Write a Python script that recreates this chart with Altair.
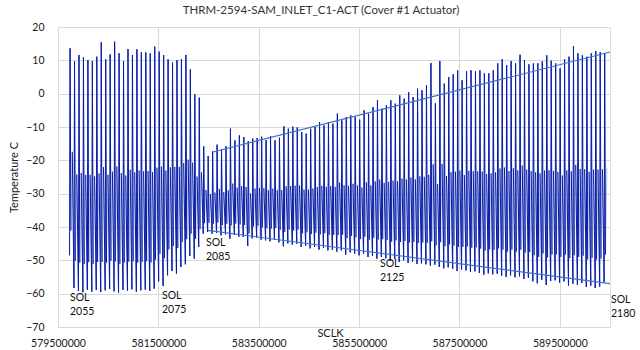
import altair as alt
import pandas as pd

title_text = "THRM-2594-SAM_INLET_C1-ACT (Cover #1 Actuator)"

# Sol timing (spacecraft clock seconds)
first_sol = 2055
first_sol_sclk = 579730000
sol_seconds = 88775

# Daily maximum temperature per sol (2055 .. 2175)
daily_high = [
    13.6, 9.8, 11.6, 10.9, 10.1, 9.8, 11.1, 15.4, 10.3, 11.8,
    15.6, 12.1, 9.8, 13.4, 11.6, 13.3, 12.4, 12.4, 12.1, 14.1,
    12.6, 11.6, 10.3, 9.3, 10.1, 10.4, 11.6, 7.3, -0.2, -1.2,
    -15.8, -18.7, -17.3, -15.3, -16.6, -15.8, -10.5, -14.0, -12.5, -13.0,
    -14.2, -13.5, -13.3, -12.9, -13.9, -12.7, -14.0, -13.2, -9.8, -10.5,
    -9.9, -10.1, -11.5, -12.0, -10.5, -10.0, -8.5, -9.5, -8.5, -9.0,
    -6.0, -8.0, -7.0, -6.5, -7.0, -7.8, -5.0, -6.0, -4.0, -2.0,
    -4.5, -3.5, -2.0, -3.0, -0.5, -1.5, 0.5, -1.0, 1.5, 1.0,
    2.5, 9.2, -2.9, 9.8, 3.0, 5.0, 5.8, 7.0, 4.0, 6.7,
    7.0, 6.7, 7.0, 6.1, 6.1, 7.0, 9.1, 10.3, 8.6, 9.8,
    9.1, 11.7, 10.1, 8.8, 9.1, 9.1, 9.7, 11.5, 9.9, 9.1,
    7.6, 10.3, 11.1, 14.3, 12.1, 11.5, 11.1, 12.1, 12.8, 12.5,
    12.1,
]

# Daily minimum temperature per sol (2055 .. 2175)
daily_low = [
    -48.5,
    -58.3, -59.2, -59.6, -58.8, -59.4, -58.9, -59.5, -59.0, -58.6, -59.3,
    -59.7, -58.9, -59.1, -58.7, -59.4, -59.0, -58.8, -59.2, -58.5,
    -56.3, -57.7, -54.5, -53.2, -54.0, -52.0, -51.2, -48.7, -49.5, -46.0,
    -42.0, -41.5,
    -42.0, -41.8, -42.5, -42.2, -43.5, -42.4, -42.9, -43.0, -45.7, -43.4,
    -43.2, -43.8, -44.0, -44.3, -43.9, -44.6, -45.8, -44.9, -45.3, -45.0,
    -46.0, -45.6, -46.4, -46.0, -46.8, -46.3, -47.0, -46.9, -47.4, -47.0,
    -48.3, -47.6, -48.0, -48.5, -48.1, -49.0, -48.6, -49.5, -49.0, -49.4,
    -50.2, -49.6, -50.5, -50.0, -50.8, -50.4, -51.1, -50.9, -51.2, -51.6,
    -51.3, -52.0, -52.4, -52.1, -52.6, -53.2, -52.8, -53.0, -53.5, -53.3,
    -53.8, -54.3, -53.9, -54.2, -54.0, -54.6, -55.0, -54.5, -55.1, -54.8,
    -55.6, -55.2, -56.3, -56.9, -55.8, -57.4, -56.2, -56.0, -56.7, -56.3,
    -57.6, -57.0, -57.3, -56.8, -58.0, -57.6, -58.3, -57.9, -56.5,
]

# Shape of one sol: phase within the sol and share of the daily range
profile_phase = [0.0, 0.12, 0.30, 0.62]
profile_frac = [0.0, 1.0, 0.12, 0.50]

# Linear trend lines
trend_upper_sclk = [582589000, 590500000]
trend_upper_temp = [-17.5, 12.5]
trend_lower_sclk = [582489000, 590500000]
trend_lower_temp = [-41.0, -57.0]

# Sol annotations
label_text = ["SOL\n2055", "SOL\n2075", "SOL\n2085", "SOL\n2125", "SOL\n2180"]
label_sclk = [579739000, 581572000, 582449000, 585916000, 590520000]
label_temp = [-59.8, -59.2, -43.3, -49.5, -60.4]

x_ticks = [579500000, 581500000, 583500000, 585500000, 587500000, 589500000]
y_ticks = [-70, -60, -50, -40, -30, -20, -10, 0, 10, 20]

# ---- build tables ----
path_rows = []
dark_rows = []
prev_tail = None
for i, (hi, lo) in enumerate(zip(daily_high, daily_low)):
    t0 = first_sol_sclk + i * sol_seconds
    pts = []
    for ph, fr in zip(profile_phase, profile_frac):
        pts.append((t0 + ph * sol_seconds, lo + fr * (hi - lo)))
    for t, v in pts:
        path_rows.append({"sclk": t, "temp": v})
    grp = ([prev_tail] if prev_tail is not None else []) + pts[0:3]
    for k, (t, v) in enumerate(grp):
        dark_rows.append({"sclk": t, "temp": v, "grp": i, "ord": k})
    prev_tail = pts[3]

path_df = pd.DataFrame(path_rows)
dark_df = pd.DataFrame(dark_rows)
trend_df = pd.concat([
    pd.DataFrame({"sclk": trend_upper_sclk, "temp": trend_upper_temp, "which": ["upper"] * 2}),
    pd.DataFrame({"sclk": trend_lower_sclk, "temp": trend_lower_temp, "which": ["lower"] * 2}),
])
label_df = pd.DataFrame({"sclk": label_sclk, "temp": label_temp, "txt": label_text})

FONT = "Lato"
GRID = "#d9d9d9"

x_scale = alt.Scale(domain=[579500000, 590500000], nice=False, zero=False)
y_scale = alt.Scale(domain=[-70, 20], nice=False, zero=False)

x_axis = alt.Axis(
    values=x_ticks, format="d", title="SCLK", titleX=272, titleY=0,
    titleBaseline="top", titleAlign="center", titleFont=FONT, titleFontSize=11,
    titleFontWeight="normal", titleColor="#1a1a1a",
    labelPadding=11, labelFont=FONT, labelFontSize=10.5, labelColor="#1a1a1a",
    labelFlush=False, labelOverlap=False, ticks=False, grid=True,
    gridColor=GRID, domainColor=GRID,
)
y_axis = alt.Axis(
    values=y_ticks, title="Temperature C", titleX=-44, titleY=150, titleAngle=270,
    titleAlign="center", titleBaseline="middle", titleFont=FONT, titleFontSize=11,
    titleFontWeight="normal", titleColor="#1a1a1a",
    labelPadding=14, labelFont=FONT, labelFontSize=10.5, labelColor="#1a1a1a",
    labelFlush=False, labelOverlap=False, ticks=False, grid=True,
    gridColor=GRID, domain=False,
)

x_enc = alt.X("sclk:Q", scale=x_scale, axis=x_axis)
y_enc = alt.Y("temp:Q", scale=y_scale, axis=y_axis)

light = alt.Chart(path_df).mark_line(color="#a4b7e5", strokeWidth=0.8, clip=True).encode(
    x=x_enc, y=y_enc, order="sclk:Q"
)
dark = alt.Chart(dark_df).mark_line(color="#0a1ca8", strokeWidth=1.0, clip=True).encode(
    x=x_enc, y=y_enc, detail="grp:N", order="ord:Q"
)
trend = alt.Chart(trend_df).mark_line(color="#3f6fc8", strokeWidth=1.1).encode(
    x=x_enc, y=y_enc, detail="which:N"
)
labels = alt.Chart(label_df).mark_text(
    align="left", baseline="top", font=FONT, fontSize=10.5, lineHeight=14,
    lineBreak="\n", color="#111111"
).encode(x=x_enc, y=y_enc, text="txt:N")

chart = alt.layer(light, dark, trend, labels).properties(
    width=552,
    height=300,
    autosize=alt.AutoSizeParams(type="none"),
    padding={"left": 58, "top": 27, "right": 30, "bottom": 23},
    title=alt.TitleParams(
        text=title_text, font=FONT, fontSize=11.5, fontWeight="normal",
        color="#333333", anchor="middle", offset=6, dx=-13,
    ),
).configure_view(stroke=None).configure(background="white")

chart.save("out.html", embed_options={"renderer": "svg", "actions": False})
